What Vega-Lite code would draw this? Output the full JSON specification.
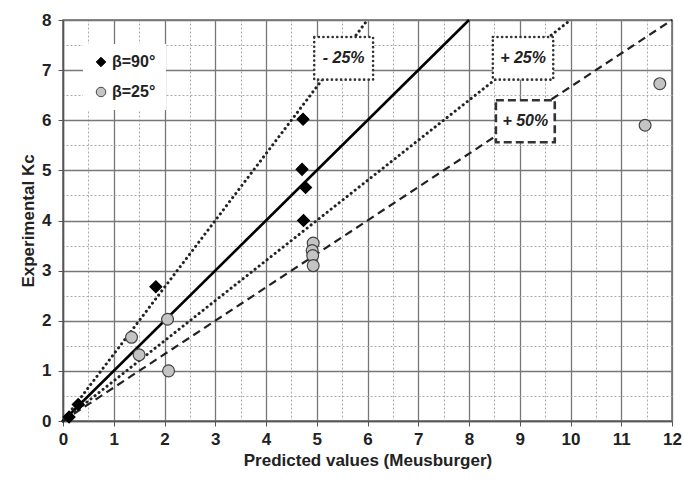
{
  "$schema": "https://vega.github.io/schema/vega-lite/v6.json",
  "width": 609,
  "height": 401,
  "autosize": {"type": "none"},
  "padding": {"left": 63, "top": 20, "right": 12, "bottom": 65},
  "background": "white",
  "config": {
    "view": {"stroke": "#666", "strokeWidth": 1.5},
    "font": "Liberation Sans"
  },
  "datasets": {
    "lines": [
      {"s": "solid", "x": 0, "y": 0}, {"s": "solid", "x": 8, "y": 8},
      {"s": "m25", "x": 0, "y": 0}, {"s": "m25", "x": 6, "y": 8},
      {"s": "p25", "x": 0, "y": 0}, {"s": "p25", "x": 10, "y": 8},
      {"s": "p50", "x": 0, "y": 0}, {"s": "p50", "x": 12, "y": 8}
    ],
    "points": [
      {"series": "β=90°", "pred": 0.12, "exp": 0.08},
      {"series": "β=90°", "pred": 0.3, "exp": 0.33},
      {"series": "β=90°", "pred": 1.83, "exp": 2.68},
      {"series": "β=90°", "pred": 4.73, "exp": 6.02},
      {"series": "β=90°", "pred": 4.71, "exp": 5.02},
      {"series": "β=90°", "pred": 4.78, "exp": 4.66},
      {"series": "β=90°", "pred": 4.74, "exp": 4.0},
      {"series": "β=25°", "pred": 1.35, "exp": 1.67},
      {"series": "β=25°", "pred": 1.5, "exp": 1.32},
      {"series": "β=25°", "pred": 2.06, "exp": 2.03},
      {"series": "β=25°", "pred": 2.08, "exp": 1.0},
      {"series": "β=25°", "pred": 4.93, "exp": 3.55},
      {"series": "β=25°", "pred": 4.91, "exp": 3.4},
      {"series": "β=25°", "pred": 4.92, "exp": 3.3},
      {"series": "β=25°", "pred": 4.93, "exp": 3.1},
      {"series": "β=25°", "pred": 11.47, "exp": 5.9},
      {"series": "β=25°", "pred": 11.76, "exp": 6.73}
    ],
    "boxes": [
      {"label": "- 25%", "b": "dot", "x1": 4.95, "x2": 6.11, "y1": 6.81, "y2": 7.66, "cx": 5.53, "cy": 7.235},
      {"label": "+ 25%", "b": "dot", "x1": 8.47, "x2": 9.66, "y1": 6.81, "y2": 7.66, "cx": 9.065, "cy": 7.235},
      {"label": "+ 50%", "b": "dash", "x1": 8.53, "x2": 9.69, "y1": 5.56, "y2": 6.4, "cx": 9.11, "cy": 5.98}
    ]
  },
  "layer": [
    {
      "data": {"name": "lines"},
      "transform": [{"filter": "datum.s === 'solid'"}],
      "mark": {"type": "line", "color": "black", "strokeWidth": 2.6},
      "encoding": {
        "x": {"field": "x", "type": "quantitative",
          "scale": {"domain": [0, 12], "nice": false, "zero": true},
          "axis": {"orient": "top", "values": [0.5,1.5,2.5,3.5,4.5,5.5,6.5,7.5,8.5,9.5,10.5,11.5], "grid": true, "gridColor": "#aaa", "gridDash": [2, 2], "gridWidth": 1, "labels": false, "ticks": false, "domain": false, "title": null}},
        "y": {"field": "y", "type": "quantitative",
          "scale": {"domain": [0, 8], "nice": false},
          "axis": {"orient": "right", "values": [0.5,1.5,2.5,3.5,4.5,5.5,6.5,7.5], "grid": true, "gridColor": "#aaa", "gridDash": [2, 2], "gridWidth": 1, "labels": false, "ticks": false, "domain": false, "title": null}},
        "detail": {"field": "s"}
      }
    },
    {
      "data": {"name": "lines"},
      "transform": [{"filter": "datum.s === 'm25' || datum.s === 'p25'"}],
      "mark": {"type": "line", "color": "#222", "strokeWidth": 3, "strokeDash": [0.1, 5], "strokeCap": "round"},
      "encoding": {
        "x": {"field": "x", "type": "quantitative", "axis": null},
        "y": {"field": "y", "type": "quantitative", "axis": null},
        "detail": {"field": "s"}
      }
    },
    {
      "data": {"name": "lines"},
      "transform": [{"filter": "datum.s === 'p50'"}],
      "mark": {"type": "line", "color": "#222", "strokeWidth": 2.2, "strokeDash": [8, 5]},
      "encoding": {
        "x": {"field": "x", "type": "quantitative", "axis": null},
        "y": {"field": "y", "type": "quantitative", "axis": null}
      }
    },
    {
      "data": {"name": "boxes"},
      "transform": [{"filter": "datum.b === 'dot'"}],
      "mark": {"type": "rect", "fill": "white", "stroke": "#333", "strokeWidth": 2.6, "strokeDash": [0.1, 4.5], "strokeCap": "round"},
      "encoding": {
        "x": {"field": "x1", "type": "quantitative", "axis": null},
        "x2": {"field": "x2"},
        "y": {"field": "y1", "type": "quantitative", "axis": null},
        "y2": {"field": "y2"}
      }
    },
    {
      "data": {"name": "boxes"},
      "transform": [{"filter": "datum.b === 'dash'"}],
      "mark": {"type": "rect", "fill": "white", "stroke": "#333", "strokeWidth": 2.6, "strokeDash": [8, 4]},
      "encoding": {
        "x": {"field": "x1", "type": "quantitative", "axis": null},
        "x2": {"field": "x2"},
        "y": {"field": "y1", "type": "quantitative", "axis": null},
        "y2": {"field": "y2"}
      }
    },
    {
      "data": {"name": "boxes"},
      "mark": {"type": "text", "font": "Liberation Sans", "fontSize": 16, "fontWeight": "bold", "fontStyle": "italic", "color": "#222", "align": "center", "baseline": "middle"},
      "encoding": {
        "x": {"field": "cx", "type": "quantitative", "axis": null},
        "y": {"field": "cy", "type": "quantitative", "axis": null},
        "text": {"field": "label"}
      }
    },
    {
      "data": {"name": "points"},
      "mark": {"type": "point", "filled": true, "size": 140, "opacity": 1, "strokeWidth": 1.2},
      "encoding": {
        "x": {"field": "pred", "type": "quantitative", "title": "Predicted values (Meusburger)",
          "axis": {"orient": "bottom", "values": [0,1,2,3,4,5,6,7,8,9,10,11,12], "grid": true, "gridColor": "#777", "gridWidth": 1.3, "domainColor": "#555", "domainWidth": 1.5, "tickColor": "#555", "tickSize": 5, "labelPadding": 5, "labelFont": "Liberation Sans", "labelFontSize": 17, "labelFontWeight": "bold", "labelColor": "#222", "titleFont": "Liberation Sans", "titleFontSize": 17, "titleFontWeight": "bold", "titleColor": "#222", "titlePadding": 5, "labelFlush": false}},
        "y": {"field": "exp", "type": "quantitative", "title": "Experimental Kc",
          "axis": {"orient": "left", "values": [0,1,2,3,4,5,6,7,8], "grid": true, "gridColor": "#777", "gridWidth": 1.3, "domainColor": "#555", "domainWidth": 1.5, "tickColor": "#555", "tickSize": 5, "labelPadding": 7, "labelFont": "Liberation Sans", "labelFontSize": 17, "labelFontWeight": "bold", "labelColor": "#222", "titleFont": "Liberation Sans", "titleFontSize": 17, "titleFontWeight": "bold", "titleColor": "#222", "titlePadding": 4, "labelFlush": false}},
        "shape": {"field": "series", "type": "nominal", "scale": {"domain": ["β=90°", "β=25°"], "range": ["diamond", "circle"]},
          "legend": {"orient": "none", "legendX": 20, "legendY": 24, "fillColor": "white", "padding": 10, "title": null, "labelFont": "Liberation Sans", "labelFontSize": 16, "labelFontWeight": "bold", "labelColor": "#222", "symbolSize": 90, "rowPadding": 14, "labelOffset": 3, "symbolStrokeWidth": 1}},
        "fill": {"field": "series", "type": "nominal", "scale": {"domain": ["β=90°", "β=25°"], "range": ["black", "#c4c4c4"]}},
        "stroke": {"field": "series", "type": "nominal", "scale": {"domain": ["β=90°", "β=25°"], "range": ["black", "#444"]}}
      }
    }
  ],
  "resolve": {"axis": {"x": "independent", "y": "independent"}}
}
